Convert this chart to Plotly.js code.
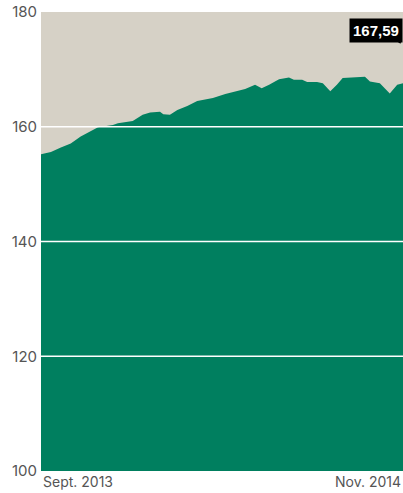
<!DOCTYPE html>
<html>
<head>
<meta charset="utf-8">
<script src="https://cdn.plot.ly/plotly-3.0.1.min.js"></script>
<style>html,body{margin:0;padding:0;background:#fff;}#chart{width:403px;height:493px;}</style>
</head>
<body>
<div id="chart"></div>
<script>
const dates = ["2013-09-02","2013-09-14","2013-09-26","2013-10-08","2013-10-20","2013-11-01","2013-11-10","2013-11-28","2013-12-04","2013-12-22",
  "2014-01-03","2014-01-12","2014-01-24","2014-01-28","2014-02-05","2014-02-14","2014-02-26","2014-03-10","2014-03-19","2014-03-29",
  "2014-04-13","2014-04-25","2014-05-07","2014-05-19","2014-05-27","2014-06-05","2014-06-12","2014-06-17","2014-06-29","2014-07-05",
  "2014-07-15","2014-07-21","2014-08-02","2014-08-09","2014-08-18","2014-08-26","2014-09-02","2014-09-15","2014-09-29","2014-10-05",
  "2014-10-17","2014-10-29","2014-11-07","2014-11-14"];
const values = [155.2,155.6,156.4,157.1,158.3,159.2,159.9,160.3,160.6,161.0,
  162.1,162.5,162.6,162.2,162.1,162.9,163.6,164.5,164.7,165.0,
  165.7,166.1,166.6,167.3,166.7,167.3,167.9,168.3,168.6,168.2,
  168.2,167.8,167.8,167.6,166.2,167.3,168.5,168.6,168.7,167.9,
  167.6,165.8,167.3,167.59];
const yTicks = [100,120,140,160,180];
const gridValues = [120,140,160];
const xLabels = ["Sept. 2013","Nov. 2014"];
const lastLabel = values[values.length-1].toFixed(2).replace('.', ',');

const trace = {
  x: dates, y: values, type: 'scatter', mode: 'lines',
  fill: 'tozeroy', fillcolor: '#007f5f',
  line: {width: 0, color: '#007f5f'}, hoverinfo: 'skip'
};
const fontFam = 'Inter, "Open Sans", sans-serif';
const gridShapes = gridValues.map(v => ({type: 'line', xref: 'paper', yref: 'y', x0: 0, x1: 1, y0: v, y1: v,
  layer: 'above', line: {color: '#ffffff', width: 1.3}}));
const layout = {
  width: 403, height: 493,
  margin: {l: 41, r: 0, t: 12, b: 22},
  paper_bgcolor: '#ffffff', plot_bgcolor: '#d6d1c6',
  showlegend: false,
  font: {family: fontFam, color: '#555'},
  xaxis: {type: 'date', range: [dates[0], dates[dates.length-1]], showgrid: false, showticklabels: false, zeroline: false, showline: false, ticks: ''},
  yaxis: {range: [100, 180], tickvals: yTicks, ticktext: yTicks.map(String), showgrid: false,
    zeroline: false, showline: false, ticks: '', ticklabelstandoff: 3, tickfont: {size: 15, color: '#555', family: fontFam}},
  annotations: [
    {xref: 'paper', yref: 'paper', x: 0, y: 0, xanchor: 'left', yanchor: 'top', text: xLabels[0], showarrow: false,
     font: {size: 14, color: '#555', family: fontFam}},
    {xref: 'paper', yref: 'paper', x: 1, y: 0, xanchor: 'right', yanchor: 'top', text: xLabels[1], showarrow: false,
     font: {size: 14, color: '#555', family: fontFam}},
    {xref: 'paper', yref: 'paper', x: 1, y: 0.988, xanchor: 'right', yanchor: 'top', text: '<b>' + lastLabel + '</b>', showarrow: false,
     bgcolor: '#000000', borderpad: 3, font: {size: 15, color: '#ffffff', family: '"Liberation Sans", Arial, sans-serif'}}
  ],
  shapes: gridShapes.concat([
    {type: 'path', xref: 'paper', yref: 'paper', path: 'M 0.975 0.940 L 0.997 0.940 L 0.993 0.931 Z', fillcolor: '#000000', line: {width: 0}}
  ])
};
Plotly.newPlot('chart', [trace], layout, {staticPlot: true, displayModeBar: false});
</script>
</body>
</html>
